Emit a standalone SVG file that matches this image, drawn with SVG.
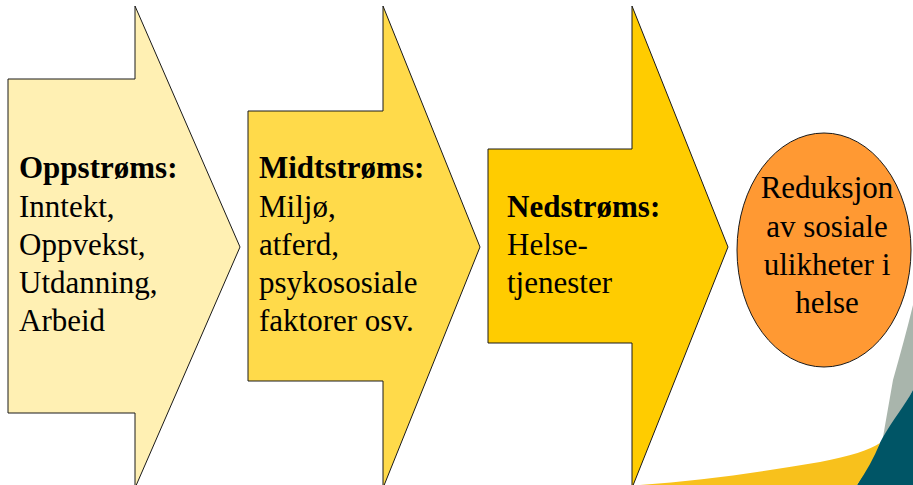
<svg xmlns="http://www.w3.org/2000/svg" width="913" height="485" viewBox="0 0 913 485">
<style>
.shape{stroke:#1a1a1a;stroke-width:1}
.t{font-family:"Liberation Serif","Times New Roman",serif;font-size:31px;fill:#000}
.b{font-weight:bold}
.c{text-anchor:middle}
</style>
<rect width="913" height="485" fill="#ffffff"/>
<g id="background">
<path d="M893,380 C900,355 907,330 913,305 L913,390 C905,405 895,420 883,437 Z" fill="#a9b5ac"/>
<path d="M913,390 L913,485 L857,485 C866,470 875,452 883,437 C893,420 905,405 913,390 Z" fill="#005566"/>
<path d="M640,485 C700,481 760,472 820,462 C850,456 870,450 880,443 C874,458 866,472 857,485 Z" fill="#f8c11c"/>
</g>
<g id="upstream">
<path class="shape" d="M8,79 L135,79 L135,6 L240,247 L135,488 L135,413 L8,413 Z" fill="#fff0b3"/>
<text class="t b" x="19" y="178">Oppstrøms:</text>
<text class="t" x="19" y="217">Inntekt,</text>
<text class="t" x="19" y="255">Oppvekst,</text>
<text class="t" x="19" y="293">Utdanning,</text>
<text class="t" x="19" y="331">Arbeid</text>
</g>
<g id="midstream">
<path class="shape" d="M248,111 L383,111 L383,6 L480,247 L383,488 L383,381 L248,381 Z" fill="#ffda4a"/>
<text class="t b" x="259" y="178">Midtstrøms:</text>
<text class="t" x="259" y="217">Miljø,</text>
<text class="t" x="259" y="255">atferd,</text>
<text class="t" x="259" y="293">psykososiale</text>
<text class="t" x="259" y="331">faktorer osv.</text>
</g>
<g id="downstream">
<path class="shape" d="M488,149 L632,149 L632,6 L728,247 L632,488 L632,343 L488,343 Z" fill="#ffcc00"/>
<text class="t b" x="507" y="217">Nedstrøms:</text>
<text class="t" x="507" y="255">Helse-</text>
<text class="t" x="507" y="293">tjenester</text>
</g>
<g id="outcome">
<ellipse class="shape" cx="824" cy="250" rx="87" ry="117" fill="#ff9933"/>
<text class="t c" x="827" y="198">Reduksjon</text>
<text class="t c" x="827" y="237">av sosiale</text>
<text class="t c" x="827" y="275">ulikheter i</text>
<text class="t c" x="827" y="313">helse</text>
</g>
<g id="connectors"></g>
</svg>
